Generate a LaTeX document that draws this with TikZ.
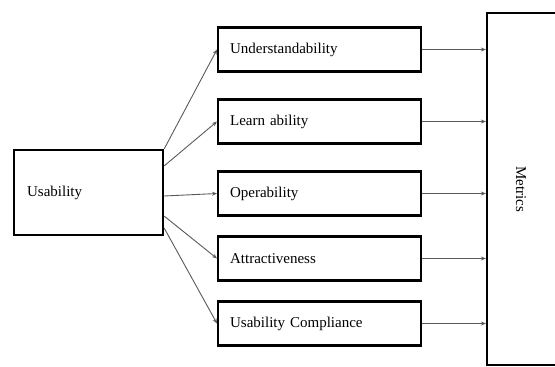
\documentclass[tikz,border=0pt]{standalone}
\usepackage{fontspec}
\setmainfont{Liberation Serif}
\usetikzlibrary{arrows.meta,positioning,calc}
\definecolor{linegray}{RGB}{90,90,90}
\begin{document}
\begin{tikzpicture}[x=1pt,y=-1pt,>={Stealth[length=5pt,width=4pt]},
  box/.style={draw,line width=2.2pt,anchor=west,font=\fontsize{15}{18}\selectfont,
              minimum height=44pt,inner xsep=12pt,text width=179pt,align=left},
  link/.style={->,linegray,line width=0.9pt}]
  \useasboundingbox (0,0) rectangle (555,367);
  %% Root
  \node[box,minimum height=85pt,text width=123pt,inner xsep=13pt]
        (usab) at (13,192.5) {Usability};
  %% Sub-characteristics
  \node[box] (und)   at (217,49.5)  {Understandability};
  \node[box] (learn) at (217,121.5) {Learn ability};
  \node[box] (oper)  at (217,193.5) {Operability};
  \node[box] (attr)  at (217,258.5) {Attractiveness};
  \node[box] (comp)  at (217,323.5) {Usability Compliance};
  %% Metrics column (open towards the right edge)
  \node[minimum width=68pt,minimum height=352pt,inner sep=0pt,outer sep=0pt,
        font=\fontsize{15}{18}\selectfont]
        (metrics) at (521,189) {\rotatebox{-90}{Metrics}};
  \draw[line width=2.2pt] (metrics.north east) -| (metrics.south west) -- (metrics.south east);
  %% Fan-out from root
  \draw[link] (usab.north east) -- (und.west);
  \draw[link] ([yshift=-17pt]usab.north east) -- (learn.west);
  \draw[link] ([yshift=-3.5pt]usab.east) -- (oper.west);
  \draw[link] ([yshift=20pt]usab.south east) -- (attr.west);
  \draw[link] ([yshift=8pt]usab.south east) -- (comp.west);
  %% Into metrics
  \foreach \n in {und,learn,oper,attr,comp}
    \draw[link] (\n.east) -- ([xshift=-1.1pt]\n.east -| metrics.west);
\end{tikzpicture}
\end{document}
